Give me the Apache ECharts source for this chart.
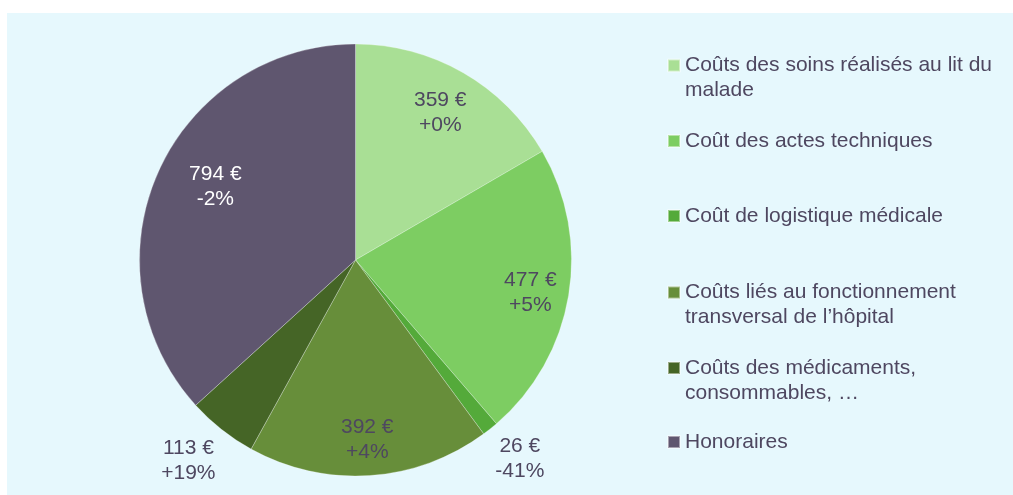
<!DOCTYPE html>
<html>
<head>
<meta charset="utf-8">
<script src="https://cdn.jsdelivr.net/npm/echarts@6/dist/echarts.min.js"></script>
<style>
html,body{margin:0;padding:0;background:#fff;width:1013px;height:495px;overflow:hidden;}
#chart{position:absolute;left:7px;top:13px;width:1006px;height:482px;background:#E6F8FD;}
</style>
</head>
<body>
<div id="chart"></div>
<script>
// ---- data ----
const categories = [
  'Coûts des soins réalisés au lit du malade',
  'Coût des actes techniques',
  'Coût de logistique médicale',
  'Coûts liés au fonctionnement transversal de l’hôpital',
  'Coûts des médicaments, consommables, …',
  'Honoraires'
];
const legendLines = [
  ['Coûts des soins réalisés au lit du', 'malade'],
  ['Coût des actes techniques'],
  ['Coût de logistique médicale'],
  ['Coûts liés au fonctionnement', 'transversal de l’hôpital'],
  ['Coûts des médicaments,', 'consommables, …'],
  ['Honoraires']
];
const values = [359, 477, 26, 392, 113, 794];
const changes = ['+0%', '+5%', '-41%', '+4%', '+19%', '-2%'];

// ---- styles ----
const colors = ['#A9DF95', '#7DCD62', '#54AA3A', '#678E3A', '#456526', '#5F566F'];
const labelColors = ['#4E4760', '#4E4760', '#4E4760', '#4E4760', '#4E4760', '#FFFFFF'];
const labelDist = [170, 178, 258, 180, 261, 158];
const labelAngleShift = [0, 1.2, -1, 0, 1.5, 3.6];
const legendTops = [15, 115.5, 190.5, 242, 317.5, 416.5];
const textColor = '#4E4760';
const font = '"Liberation Sans", Arial, sans-serif';
const fontSize = 21;
const center = [348.5, 247];
const radius = 216;

const chart = echarts.init(document.getElementById('chart'), null, {renderer: 'canvas'});

const legends = categories.map((name, i) => ({
  data: [name],
  left: 660,
  top: legendTops[i],
  orient: 'vertical',
  padding: 0,
  itemWidth: 12,
  itemHeight: 12,
  icon: 'rect',
  selectedMode: false,
  formatter: () => {
    const lines = legendLines[i];
    return lines.length > 1 ? '\n' + lines.join('\n') : lines[0];
  },
  textStyle: {color: textColor, fontSize: fontSize, lineHeight: 25, fontFamily: font}
}));

chart.setOption({
  animation: false,
  legend: legends,
  series: [{
    type: 'pie',
    center: center,
    radius: [0, radius],
    startAngle: 90,
    clockwise: true,
    avoidLabelOverlap: false,
    itemStyle: {borderColor: 'rgba(255,255,255,0.45)', borderWidth: 0.6},
    emphasis: {disabled: true},
    label: {
      show: true,
      position: 'inside',
      fontSize: fontSize,
      lineHeight: 25,
      fontFamily: font,
      formatter: p => p.value + ' €\n' + changes[p.dataIndex]
    },
    labelLine: {show: false},
    labelLayout: function (params) {
      const r = params.labelRect;
      const lx = r.x + r.width / 2;
      const ly = r.y + r.height / 2;
      const vx = lx - center[0];
      const vy = ly - center[1];
      const a = Math.atan2(vy, vx) + labelAngleShift[params.dataIndex] * Math.PI / 180;
      const d = labelDist[params.dataIndex];
      const tx = center[0] + Math.cos(a) * d;
      const ty = center[1] + Math.sin(a) * d;
      return {dx: tx - lx, dy: ty - ly};
    },
    data: categories.map((name, i) => ({
      name: name,
      value: values[i],
      itemStyle: {color: colors[i]},
      label: {color: labelColors[i]}
    }))
  }]
});
</script>
</body>
</html>
